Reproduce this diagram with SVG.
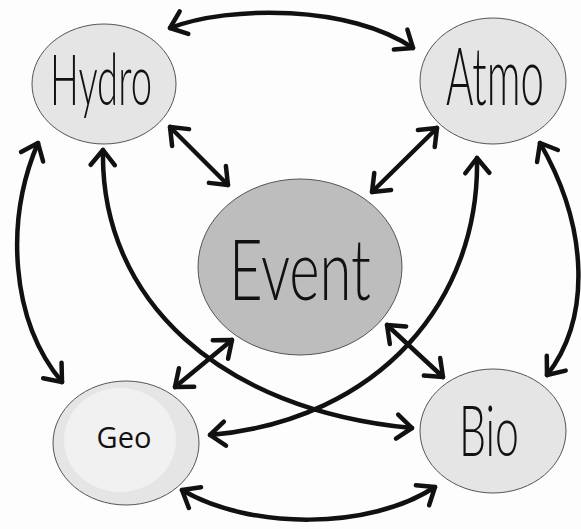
<svg xmlns="http://www.w3.org/2000/svg" width="581" height="529" viewBox="0 0 581 529">
<defs>
<marker id="ah" viewBox="-20 -15 24 30" refX="0" refY="0" markerWidth="24" markerHeight="30" markerUnits="userSpaceOnUse" orient="auto-start-reverse">
<path d="M-15,-12 L0,0 L-15,12" fill="none" stroke="#111" stroke-width="4.5" stroke-linecap="round" stroke-linejoin="round"/>
</marker>
<style>
.node{fill:#e5e5e5;stroke:#555;stroke-width:1}
.ev{fill:#bdbdbd;stroke:#555;stroke-width:1}
.hand{font-family:Lato,"Open Sans","Liberation Sans",sans-serif;font-weight:300;fill:#111}
.lab{font-family:"Open Sans","Liberation Sans",sans-serif;fill:#111;text-anchor:middle}
.c{fill:none;stroke:#111;stroke-width:4.5;stroke-linecap:round;marker-start:url(#ah);marker-end:url(#ah)}
</style>
</defs>
<rect width="581" height="529" fill="#fdfdfd"/>
<g id="connectors">
<path class="c" d="M170,28 C230,5 350,5 413,48"/>
<path class="c" d="M170,127 L228,185"/>
<path class="c" d="M437,128 L372,192"/>
<path class="c" d="M38,143 C5,220 10,320 62,382"/>
<path class="c" d="M540,143 C590,230 590,320 547,375"/>
<path class="c" d="M103,150 C100,300 220,410 412,428"/>
<path class="c" d="M477,158 C480,300 380,420 210,435"/>
<path class="c" d="M232,340 L175,387"/>
<path class="c" d="M387,325 L443,377"/>
<path class="c" d="M182,490 C250,530 370,530 435,487"/>
</g>
<g id="hydro">
<ellipse class="node" cx="104" cy="84" rx="72" ry="60"/>
<text class="hand" transform="translate(50,105) scale(1,1.67)" font-size="42" textLength="102" lengthAdjust="spacingAndGlyphs">Hydro</text>
</g>
<g id="atmo">
<ellipse class="node" cx="493" cy="81" rx="73" ry="63"/>
<text class="hand" transform="translate(446,105) scale(1,1.67)" font-size="48" textLength="98" lengthAdjust="spacingAndGlyphs">Atmo</text>
</g>
<g id="event">
<ellipse class="ev" cx="300" cy="267" rx="102" ry="88"/>
<text class="hand" transform="translate(229,300) scale(1,1.68)" font-size="50" font-weight="400" textLength="142" lengthAdjust="spacingAndGlyphs">Event</text>
</g>
<g id="geo">
<ellipse class="node" cx="126" cy="443" rx="73" ry="62"/>
<ellipse cx="120" cy="440" rx="56" ry="52" fill="#f1f1f1"/>
<text class="lab" x="124" y="448" font-size="29">Geo</text>
</g>
<g id="bio">
<ellipse class="node" cx="493" cy="431" rx="73" ry="62"/>
<text class="hand" transform="translate(459,456) scale(1,1.67)" font-size="43" textLength="60" lengthAdjust="spacingAndGlyphs">Bio</text>
</g>
</svg>
